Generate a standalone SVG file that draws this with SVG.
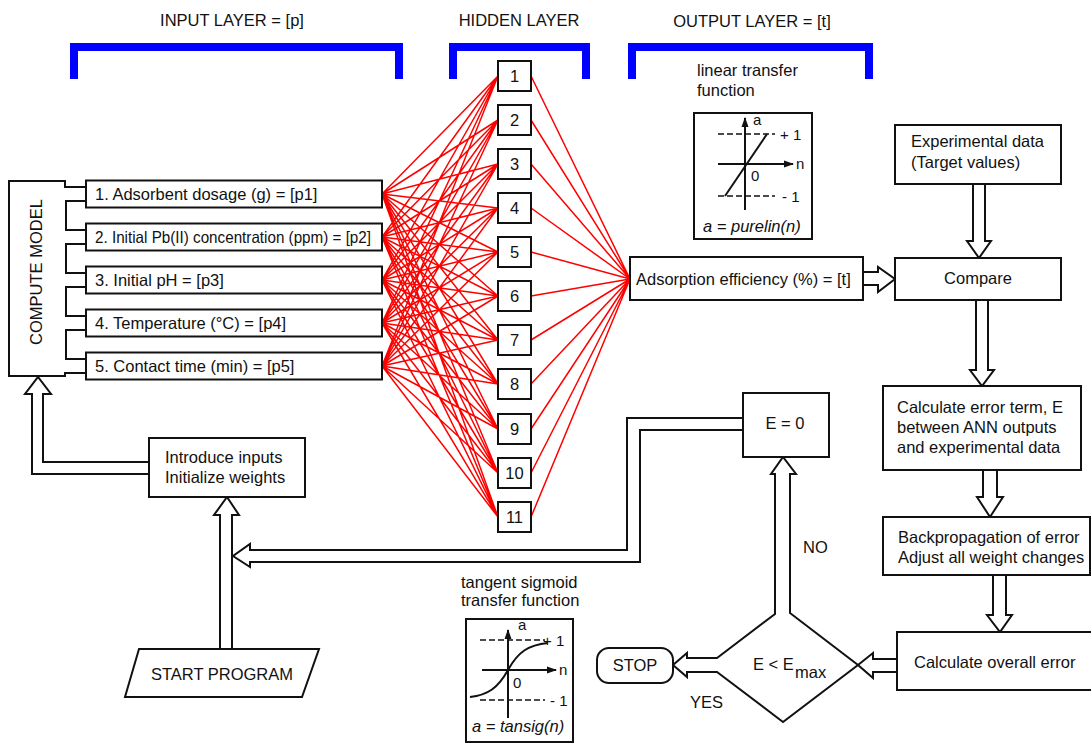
<svg xmlns="http://www.w3.org/2000/svg" width="1091" height="744" viewBox="0 0 1091 744">
  <style>
    text { font-family: "Liberation Sans", Arial, sans-serif; font-size: 16.5px; fill: #111; }
    .mid { text-anchor: middle; }
    .small { font-size: 15px; }
    .it { font-style: italic; }
    .box { fill: #fff; stroke: #111; stroke-width: 2; }
    .pipe { fill: #fff; stroke: #111; stroke-width: 2; stroke-linejoin: miter; }
    .bracket { fill: none; stroke: #0000ff; stroke-width: 8; stroke-linejoin: miter; }
    .axis { fill: none; stroke: #111; stroke-width: 2; }
    .dash { fill: none; stroke: #111; stroke-width: 1.6; stroke-dasharray: 6 3; }
    .net { fill: none; stroke: #ff0000; stroke-width: 1.5; }
  </style>
  <defs>
    <marker id="tip" viewBox="0 0 10 10" refX="9" refY="5" markerWidth="10" markerHeight="10" markerUnits="userSpaceOnUse" orient="auto">
      <path d="M0,1.5 L10,5 L0,8.5 Z" fill="#111"/>
    </marker>
  </defs>

  <rect width="1091" height="744" fill="#fff"/>

  <!-- layer headings and brackets -->
  <g id="layer-headings">
    <text class="mid" x="232" y="26">INPUT LAYER = [p]</text>
    <text class="mid" x="519" y="26">HIDDEN LAYER</text>
    <text class="mid" x="752" y="27">OUTPUT LAYER = [t]</text>
    <path class="bracket" d="M74,79 V47 H399 V79"/>
    <path class="bracket" d="M453,79 V47 H586 V79"/>
    <path class="bracket" d="M632,79 V47 H869 V79"/>
  </g>

  <!-- network weights -->
  <g id="connectors">
    <path class="net" d="
      M382,194L498,76M382,194L498,120M382,194L498,164M382,194L498,208M382,194L498,252M382,194L498,296M382,194L498,340M382,194L498,384M382,194L498,429M382,194L498,473M382,194L498,517
      M382,237L498,76M382,237L498,120M382,237L498,164M382,237L498,208M382,237L498,252M382,237L498,296M382,237L498,340M382,237L498,384M382,237L498,429M382,237L498,473M382,237L498,517
      M382,280L498,76M382,280L498,120M382,280L498,164M382,280L498,208M382,280L498,252M382,280L498,296M382,280L498,340M382,280L498,384M382,280L498,429M382,280L498,473M382,280L498,517
      M382,323L498,76M382,323L498,120M382,323L498,164M382,323L498,208M382,323L498,252M382,323L498,296M382,323L498,340M382,323L498,384M382,323L498,429M382,323L498,473M382,323L498,517
      M382,366L498,76M382,366L498,120M382,366L498,164M382,366L498,208M382,366L498,252M382,366L498,296M382,366L498,340M382,366L498,384M382,366L498,429M382,366L498,473M382,366L498,517
      M531,76L630,279M531,120L630,279M531,164L630,279M531,208L630,279M531,252L630,279M531,296L630,279M531,340L630,279M531,384L630,279M531,429L630,279M531,473L630,279M531,517L630,279"/>

    <!-- hollow flow arrows -->
    <path class="pipe" d="M149,462 H43 V394 H51 L38,377 L25,394 H32 V474 H149"/>
    <path class="pipe" d="M220,649 V515 H214 L227,497 L239,515 H232 V649"/>
    <path class="pipe" d="M743,418 H627 V550 H250 V544 L233,556 L250,567 V562 H640 V430 H743"/>
    <path class="pipe" d="M863,272 H878 V267 L895,279 L878,292 V285 H863"/>
    <path class="pipe" d="M973,184 V241 H967 L979,258 L991,241 H985 V184"/>
    <path class="pipe" d="M976,300 V370 H970 L982,386 L994,370 H988 V300"/>
    <path class="pipe" d="M983,470 V497 H977 L990,517 L1003,497 H997 V470"/>
    <path class="pipe" d="M993,575 V615 H987 L1000,632 L1012,615 H1006 V575"/>
    <path class="pipe" d="M897,659 H873 V653 L858,665 L873,678 V672 H897"/>
  </g>

  <!-- compute model with its feed pipes -->
  <g id="compute-model">
    <path class="pipe" d="M9,181 H65 V187 H86 V201 H66 V230 H86 V244 H66 V273 H86 V287 H66 V316 H86 V330 H66 V359 H86 V373 H65 V376 H9 Z"/>
    <text class="mid" transform="translate(42,272) rotate(-90)" x="0" y="0">COMPUTE MODEL</text>
  </g>

  <!-- input neurons -->
  <g id="input-1"><rect class="box" x="86" y="180.5" width="296" height="27"/><text x="95" y="200">1. Adsorbent dosage (g) = [p1]</text></g>
  <g id="input-2"><rect class="box" x="86" y="223.5" width="296" height="27"/><text x="95" y="243" textLength="276" lengthAdjust="spacingAndGlyphs">2. Initial Pb(II) concentration (ppm) = [p2]</text></g>
  <g id="input-3"><rect class="box" x="86" y="266.5" width="296" height="27"/><text x="95" y="286">3. Initial pH = [p3]</text></g>
  <g id="input-4"><rect class="box" x="86" y="309.5" width="296" height="27"/><text x="95" y="329">4. Temperature (°C) = [p4]</text></g>
  <g id="input-5"><rect class="box" x="86" y="352.5" width="296" height="27"/><text x="95" y="372">5. Contact time (min) = [p5]</text></g>

  <!-- hidden neurons -->
  <g id="hidden-1"><rect class="box" x="498" y="61" width="33" height="30"/><text class="mid" x="514.5" y="82">1</text></g>
  <g id="hidden-2"><rect class="box" x="498" y="105" width="33" height="30"/><text class="mid" x="514.5" y="126">2</text></g>
  <g id="hidden-3"><rect class="box" x="498" y="149" width="33" height="30"/><text class="mid" x="514.5" y="170">3</text></g>
  <g id="hidden-4"><rect class="box" x="498" y="193" width="33" height="30"/><text class="mid" x="514.5" y="214">4</text></g>
  <g id="hidden-5"><rect class="box" x="498" y="237" width="33" height="30"/><text class="mid" x="514.5" y="258">5</text></g>
  <g id="hidden-6"><rect class="box" x="498" y="281" width="33" height="30"/><text class="mid" x="514.5" y="302">6</text></g>
  <g id="hidden-7"><rect class="box" x="498" y="325" width="33" height="30"/><text class="mid" x="514.5" y="346">7</text></g>
  <g id="hidden-8"><rect class="box" x="498" y="369" width="33" height="30"/><text class="mid" x="514.5" y="390">8</text></g>
  <g id="hidden-9"><rect class="box" x="498" y="414" width="33" height="30"/><text class="mid" x="514.5" y="435">9</text></g>
  <g id="hidden-10"><rect class="box" x="498" y="458" width="33" height="30"/><text class="mid" x="514.5" y="479">10</text></g>
  <g id="hidden-11"><rect class="box" x="498" y="502" width="33" height="30"/><text class="mid" x="514.5" y="523">11</text></g>

  <!-- output neuron -->
  <g id="output">
    <rect class="box" x="630" y="257" width="233" height="43"/>
    <text x="636" y="285">Adsorption efficiency (%) = [t]</text>
  </g>

  <!-- linear transfer function inset -->
  <g id="purelin">
    <text x="697" y="76">linear transfer</text>
    <text x="697" y="96">function</text>
    <rect class="box" x="694" y="113" width="118" height="126"/>
    <line class="dash" x1="718" y1="134" x2="775" y2="134"/>
    <line class="dash" x1="718" y1="196" x2="775" y2="196"/>
    <line class="axis" x1="745" y1="210" x2="745" y2="118" marker-end="url(#tip)"/>
    <line class="axis" x1="718" y1="164" x2="793" y2="164" marker-end="url(#tip)"/>
    <line class="axis" x1="725" y1="196" x2="767" y2="134"/>
    <text class="small" x="753" y="125">a</text>
    <text class="small" x="780" y="140">+ 1</text>
    <text class="small" x="796" y="169">n</text>
    <text class="small" x="751" y="181">0</text>
    <text class="small" x="782" y="202">- 1</text>
    <text class="it" x="703" y="232">a = purelin(n)</text>
  </g>

  <!-- tangent sigmoid inset -->
  <g id="tansig">
    <text x="461" y="588">tangent sigmoid</text>
    <text x="461" y="606">transfer function</text>
    <rect class="box" x="466" y="619" width="107" height="123"/>
    <line class="dash" x1="480" y1="640" x2="545" y2="640"/>
    <line class="dash" x1="480" y1="700" x2="545" y2="700"/>
    <line class="axis" x1="508" y1="718" x2="508" y2="630" marker-end="url(#tip)"/>
    <line class="axis" x1="482" y1="670" x2="556" y2="670" marker-end="url(#tip)"/>
    <path class="axis" d="M470,697 C488,695 498,688 508,670 C518,652 528,645 548,643"/>
    <text class="small" x="518" y="630">a</text>
    <text class="small" x="543" y="646">+ 1</text>
    <text class="small" x="559" y="675">n</text>
    <text class="small" x="513" y="688">0</text>
    <text class="small" x="550" y="706">- 1</text>
    <text class="it" x="472" y="732">a = tansig(n)</text>
  </g>

  <!-- training loop -->
  <g id="experimental-data">
    <rect class="box" x="895" y="125" width="166" height="59"/>
    <text x="911" y="147">Experimental data</text>
    <text x="911" y="168">(Target values)</text>
  </g>
  <g id="compare">
    <rect class="box" x="895" y="258" width="166" height="42"/>
    <text class="mid" x="978" y="284">Compare</text>
  </g>
  <g id="error-term">
    <rect class="box" x="883" y="386" width="198" height="84"/>
    <text x="897" y="413">Calculate error term, E</text>
    <text x="897" y="433">between ANN outputs</text>
    <text x="897" y="453">and experimental data</text>
  </g>
  <g id="backprop">
    <rect class="box" x="883" y="517" width="207" height="58"/>
    <text x="898" y="543">Backpropagation of error</text>
    <text x="898" y="563">Adjust all weight changes</text>
  </g>
  <g id="overall-error">
    <rect class="box" x="897" y="632" width="200" height="58"/>
    <text x="914" y="668">Calculate overall error</text>
  </g>
  <g id="decision">
    <path class="pipe" d="M790,613 L858,665 L783,722 L717,672 H687 V677 L673,665 L687,653 V658 H717 L775,614 V474 H771 L783,457 L796,474 H790 Z"/>
    <text x="753" y="670">E &lt; E</text>
    <text x="795" y="678">max</text>
    <text x="803" y="553">NO</text>
    <text x="690" y="708">YES</text>
  </g>
  <g id="reset-error">
    <rect class="box" x="743" y="393" width="86" height="64"/>
    <text class="mid" x="785" y="429">E = 0</text>
  </g>
  <g id="stop">
    <rect class="box" x="597" y="648" width="76" height="35" rx="12"/>
    <text class="mid" x="635" y="671">STOP</text>
  </g>
  <g id="introduce">
    <rect class="box" x="149" y="438" width="156" height="59"/>
    <text x="165" y="463">Introduce inputs</text>
    <text x="165" y="483">Initialize weights</text>
  </g>
  <g id="start">
    <polygon class="box" points="139,649 319,649 302,697 125,697"/>
    <text class="mid" x="222" y="680">START PROGRAM</text>
  </g>
</svg>
